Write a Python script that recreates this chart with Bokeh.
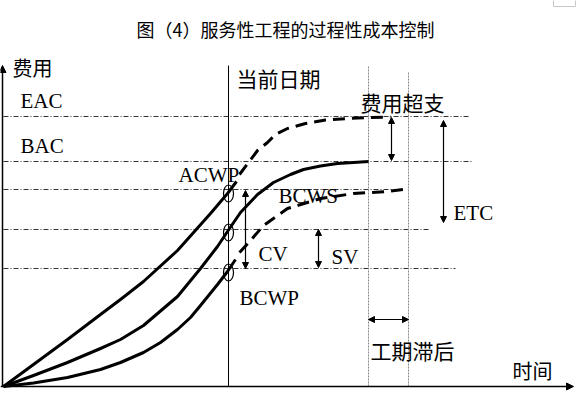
from bokeh.plotting import figure
from bokeh.models import Range1d, Arrow, NormalHead
from bokeh.core.properties import value
from bokeh.embed import file_html
from bokeh.resources import INLINE

# ---- data (diagram units = reference picture pixels, y downwards) ----
title_text = "图（4）服务性工程的过程性成本控制"

# ACWP actual cost curve (solid) and its forecast (dashed, to EAC)
acwp_x = [3, 33, 67, 100, 120, 143, 177, 210, 227, 236]
acwp_y = [386, 364, 339, 314, 299, 281, 250, 213, 193, 181]
eac_x = [239, 248, 257, 267, 275, 287, 305, 325, 348, 367, 390]
eac_y = [174, 162, 150, 142, 134, 128, 123, 119.5, 118, 117, 116.5]

# BCWS planned curve (solid, to BAC)
bcws_x = [3, 33, 67, 100, 120, 143, 177, 200, 217, 227, 240, 257, 273, 290, 303, 320, 337, 353, 368]
bcws_y = [386, 375, 362, 348, 339, 325, 296, 268, 246, 231, 212, 194, 182, 174, 169, 165.5, 163, 162, 161]

# BCWP earned value curve (solid) and its forecast (dashed)
bcwp_x = [3, 33, 67, 100, 120, 143, 160, 177, 190, 200, 217, 227, 235]
bcwp_y = [386, 382.5, 377, 369, 362, 352, 342, 329, 317, 305, 284, 271, 259]
bcwp_f_x = [239, 250, 263, 287, 320, 353, 387, 403]
bcwp_f_y = [252, 240, 225, 208, 198, 193, 191, 189]

# reference levels (dash-dot lines): EAC, BAC, ACWP, BCWS, BCWP
level_y = [116, 161, 189, 229, 268]
level_x0 = [3, 3, 3, 3, 3]
level_x1 = [468, 472, 403, 428, 455]

# time markers
now_x = 228
lag_x = [368, 408]
lag_top = [66, 72]
axis_y0 = 386

# circles at the current date
circle_x = [228, 228, 228]
circle_y = [193, 232, 272]

# labels
latin_labels = ["EAC", "BAC", "ACWP", "BCWS", "CV", "SV", "BCWP", "ETC"]
latin_x = [20, 20, 178, 278, 258, 331, 239, 453]
latin_y = [100, 145, 174, 195, 253, 256, 297, 212]
cjk_labels = ["当前日期", "费用超支", "工期滞后"]
cjk_x = [236, 360, 370]
cjk_y = [77, 101, 349]
axis_labels = ["费用", "时间"]
axis_lab_x = [12, 512]
axis_lab_y = [67, 370]

# double-headed arrows (x0, y0, x1, y1): 费用超支, ETC, CV, SV, 工期滞后
arr_x0 = [391, 443, 245, 318, 368]
arr_y0 = [117, 120, 190, 229, 319]
arr_x1 = [391, 443, 245, 318, 408]
arr_y1 = [160, 222, 268, 267, 319]

p = figure(width=585, height=397, x_range=Range1d(0, 585), y_range=Range1d(397, 0),
           output_backend="svg", toolbar_location=None, min_border=0,
           x_axis_type=None, y_axis_type=None)
p.min_border_left = p.min_border_right = p.min_border_top = p.min_border_bottom = 0
p.grid.visible = False
p.outline_line_color = None
p.background_fill_color = "white"
p.border_fill_color = "white"

# small grey box in the top-right corner
p.quad(left=[553], right=[575], top=[-2], bottom=[6], fill_color=None,
       line_color="#c8c8c8", line_width=1)

# dash-dot level lines
p.segment(x0=level_x0, y0=level_y, x1=level_x1, y1=level_y,
          line_color="#333333", line_width=1, line_dash="5 2 1 2")

# grey dotted lag lines
p.segment(x0=lag_x, y0=lag_top, x1=lag_x, y1=[axis_y0, axis_y0],
          line_color="#8a8a8a", line_width=1, line_dash="2 1")

# current date line
p.segment(x0=[now_x], y0=[65], x1=[now_x], y1=[axis_y0], line_color="black", line_width=1)

# curves
p.line(acwp_x, acwp_y, line_color="black", line_width=3, line_join="round")
p.line(eac_x, eac_y, line_color="black", line_width=3, line_dash="12 7")
p.line(bcws_x, bcws_y, line_color="black", line_width=3, line_join="round")
p.line(bcwp_x, bcwp_y, line_color="black", line_width=3, line_join="round")
p.line(bcwp_f_x, bcwp_f_y, line_color="black", line_width=3, line_dash="12 7")

# circles
p.ellipse(x=circle_x, y=circle_y, width=10, height=17, fill_color=None,
          line_color="black", line_width=1.2)

# axes with arrows
p.add_layout(Arrow(x_start=2, y_start=axis_y0, x_end=2, y_end=65, line_width=1.5,
                   end=NormalHead(size=7, fill_color="black", line_color="black")))
p.add_layout(Arrow(x_start=0, y_start=axis_y0, x_end=573, y_end=axis_y0, line_width=1.5,
                   end=NormalHead(size=7, fill_color="black", line_color="black")))

for a, b, c, d in zip(arr_x0, arr_y0, arr_x1, arr_y1):
    p.add_layout(Arrow(x_start=a, y_start=b, x_end=c, y_end=d, line_width=1.2,
                       start=NormalHead(size=6, fill_color="black", line_color="black"),
                       end=NormalHead(size=6, fill_color="black", line_color="black")))

# texts
p.text(x=[285], y=[28], text=[title_text], text_font=value("Noto Sans CJK SC"),
       text_font_size="18px", text_align="center", text_baseline="middle", text_color="black")
p.text(x=latin_x, y=latin_y, text=latin_labels, text_font=value("Liberation Serif"),
       text_font_size="21px", text_align="left", text_baseline="middle", text_color="black")
p.text(x=cjk_x, y=cjk_y, text=cjk_labels, text_font=value("Noto Sans CJK SC"),
       text_font_size="21px", text_align="left", text_baseline="middle", text_color="black")
p.text(x=axis_lab_x, y=axis_lab_y, text=axis_labels, text_font=value("Noto Sans CJK SC"),
       text_font_size="20px", text_align="left", text_baseline="middle", text_color="black")

open("out.html", "w").write(file_html(p, INLINE))
